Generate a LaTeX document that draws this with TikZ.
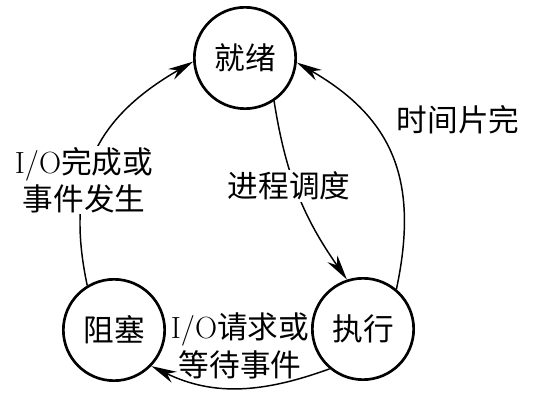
\documentclass[tikz,border=0pt]{standalone}
\usepackage{fontspec}
\newfontfamily\cjk{Noto Sans CJK SC}
\usetikzlibrary{arrows.meta}
\tikzset{
  state/.style={circle,draw,line width=2pt,minimum size=76pt,inner sep=0pt,
    font=\cjk\fontsize{23}{27}\selectfont},
  lbl/.style={font=\cjk\fontsize{23}{28}\selectfont,align=center,inner sep=1pt},
  trans/.style={line width=1.1pt,-{Stealth[length=19pt,width=9pt,inset=6pt]}}
}
\begin{document}
\begin{tikzpicture}[x=0.75pt,y=0.75pt]
  \useasboundingbox (0,0) rectangle (548,406);
  % states
  \node[state] (jx) at (245,348) {就绪};
  \node[state] (zx) at (363,77) {执行};
  \node[state] (zs) at (114,76) {阻塞};
  % transitions
  \draw[trans] (jx.-56) to[out=-81,in=125] (zx.108);
  \draw[trans] (zx.50) to[out=78,in=-30,looseness=1.15] (jx.-5);
  \draw[trans] (zx.-130) to[out=-160,in=-26] (zs.-44);
  \draw[trans] (zs.121) to[out=102,in=-150,looseness=1.15] (jx.184);
  % labels
  \node[lbl,fill=white] (ddl) at (289,220) {进程调度};
  \node[lbl] (sjp) at (458,286) {时间片完};
  \node[lbl,fill=white] (wc) at (84,226) {\textrm{I/O}完成或\\事件发生};
  \node[lbl] (qq) at (240,60) {\textrm{I/O}请求或\\等待事件};
\end{tikzpicture}
\end{document}
